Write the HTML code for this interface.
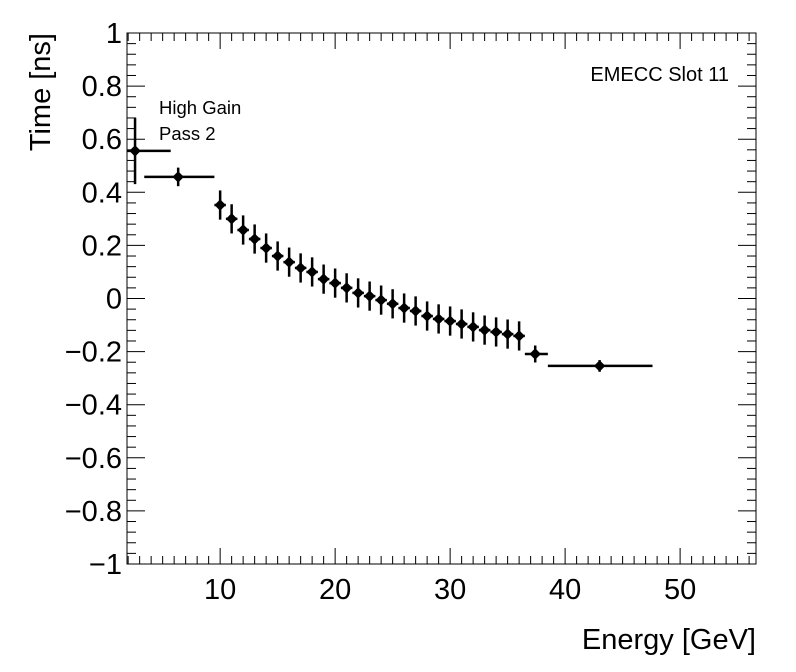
<!DOCTYPE html>
<html><head><meta charset="utf-8"><style>
html,body{margin:0;padding:0;background:#fff;}
svg{display:block;font-family:"Liberation Sans",sans-serif;}
</style></head><body>
<svg id="chart" width="796" height="672" xmlns="http://www.w3.org/2000/svg"></svg>
<script>
const xCenters=[2.6,6.35,10,11,12,13,14,15,16,17,18,19,20,21,22,23,24,25,26,27,28,29,30,31,32,33,34,35,36,37.4,43.0];
const xLow=[1.9,3.4,9.5,10.5,11.5,12.5,13.5,14.5,15.5,16.5,17.5,18.5,19.5,20.5,21.5,22.5,23.5,24.5,25.5,26.5,27.5,28.5,29.5,30.5,31.5,32.5,33.5,34.5,35.5,36.5,38.5];
const xHigh=[5.7,9.5,10.5,11.5,12.5,13.5,14.5,15.5,16.5,17.5,18.5,19.5,20.5,21.5,22.5,23.5,24.5,25.5,26.5,27.5,28.5,29.5,30.5,31.5,32.5,33.5,34.5,35.5,36.5,38.5,47.6];
const yValues=[0.556,0.458,0.352,0.30,0.258,0.224,0.19,0.16,0.137,0.115,0.10,0.073,0.058,0.04,0.021,0.009,-0.006,-0.02,-0.036,-0.047,-0.066,-0.077,-0.085,-0.096,-0.107,-0.119,-0.126,-0.134,-0.141,-0.209,-0.254];
const yErr=[0.125,0.035,0.055,0.055,0.055,0.055,0.055,0.055,0.055,0.055,0.055,0.055,0.055,0.055,0.055,0.055,0.055,0.055,0.055,0.055,0.055,0.055,0.055,0.055,0.055,0.055,0.055,0.055,0.055,0.032,0.022];
const xTicks=[10,20,30,40,50];
const yTicks=[-1,-0.8,-0.6,-0.4,-0.2,0,0.2,0.4,0.6,0.8,1];
const yTickLabels=["\u22121","\u22120.8","\u22120.6","\u22120.4","\u22120.2","0","0.2","0.4","0.6","0.8","1"];

const L=127,R=756,T=33,B=564;
const X0=1.9,X1=56.6,Y0=-1,Y1=1;
const sx=v=>L+(v-X0)/(X1-X0)*(R-L);
const sy=v=>B-(v-Y0)/(Y1-Y0)*(B-T);
const svg=document.getElementById('chart');
const NS='http://www.w3.org/2000/svg';
function mk(tag,attrs,parent){const e=document.createElementNS(NS,tag);for(const k in attrs)e.setAttribute(k,attrs[k]);(parent||svg).appendChild(e);return e;}

const frame=mk('rect',{x:L,y:T,width:R-L,height:B-T,fill:'none',stroke:'#000','stroke-width':1});



const axes=mk('g',{stroke:'#000','stroke-width':1});


for(let v=2;v<=56;v+=1){
  const x=sx(v);const major=v%10===0;const len=major?16:8;
  mk('line',{x1:x,y1:B,x2:x,y2:B-len},axes);
  mk('line',{x1:x,y1:T,x2:x,y2:T+len},axes);
}
for(let i=0;i<=50;i++){
  const v=-1+i*0.04;const y=sy(v);const major=i%5===0;const len=major?18:9;
  mk('line',{x1:L,y1:y,x2:L+len,y2:y},axes);
  mk('line',{x1:R,y1:y,x2:R-len,y2:y},axes);
}
xTicks.forEach(v=>{
  const t=mk('text',{x:sx(v),y:B+35,'font-size':29,'text-anchor':'middle'});
  t.textContent=v;
  
  
});
yTicks.forEach((v,i)=>{
  const t=mk('text',{x:L-5,y:sy(v)+10,'font-size':29,'text-anchor':'end'});
  t.textContent=yTickLabels[i];
  
  
});
const xt=mk('text',{x:756,y:649,'font-size':29,'text-anchor':'end'});xt.textContent='Energy [GeV]';


const yt=mk('text',{x:0,y:0,'font-size':29,'text-anchor':'end',transform:'translate(50,33) rotate(-90)'});yt.textContent='Time [ns]';



const pts=mk('g',{});


xCenters.forEach((xc,i)=>{
  const g=mk('g',{stroke:'#000','stroke-width':2.5},pts);
  
  
  const x=sx(xc),y=sy(yValues[i]);
  mk('line',{x1:Math.max(L,sx(xLow[i])),y1:y,x2:sx(xHigh[i]),y2:y},g);
  mk('line',{x1:x,y1:Math.max(T,sy(yValues[i]+yErr[i])),x2:x,y2:sy(yValues[i]-yErr[i])},g);
  mk('polygon',{points:`${x-5},${y} ${x},${y-5} ${x+5},${y} ${x},${y+5}`,fill:'#000','stroke-width':1},g);
});

const l1=mk('text',{x:159,y:114,'font-size':18.5});l1.textContent='High Gain';


const l2=mk('text',{x:159,y:140,'font-size':18.5});l2.textContent='Pass 2';


const l3=mk('text',{x:729,y:81,'font-size':20,'text-anchor':'end'});l3.textContent='EMECC Slot 11';


</script>
</body></html>
